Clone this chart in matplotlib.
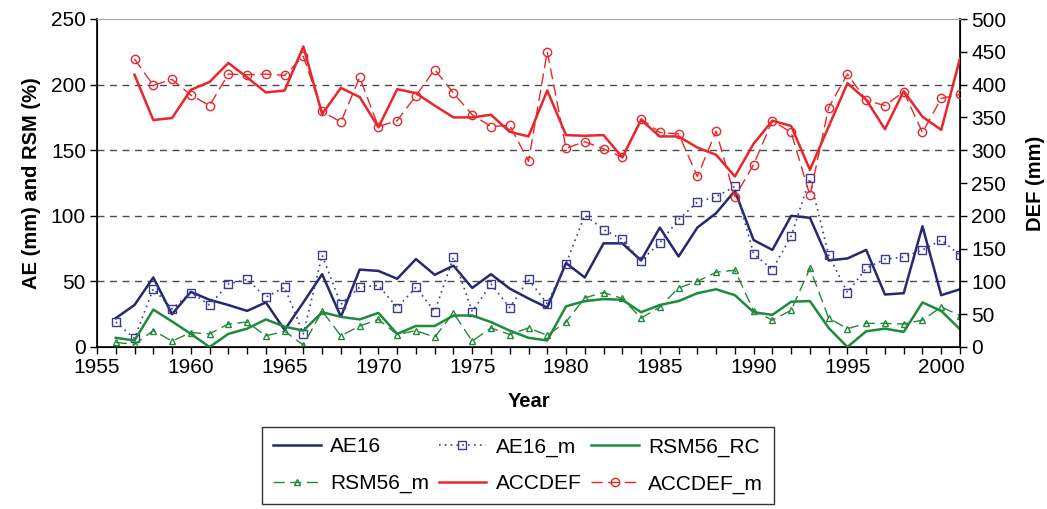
import matplotlib
matplotlib.use("Agg")
import matplotlib.pyplot as plt
from matplotlib.ticker import MultipleLocator

plt.rcParams['font.family'] = ['Liberation Sans', 'DejaVu Sans']

years = list(range(1956, 2002))

AE16 = [22, 32, 53, 25, 42, 36, 32, 27.5, 34, 13, 34, 55.5, 23, 59, 58, 52,
        67, 55, 62, 45, 55.5, 44.5, 37, 30, 64, 53, 79, 79, 66, 91, 69,
        91, 102, 119, 81.5, 74, 100, 98.5, 66, 67.5, 74, 40, 41, 92, 39.5, 44]
AE16_m = [19, 6.5, 44.5, 29, 41.5, 32, 48, 51.5, 38, 45.5, 10, 70, 32.5, 45.5, 47, 30,
          45.5, 27, 68.5, 27, 48, 30, 51.5, 33, 63.5, 100.5, 89.5, 82, 65.5, 79.5, 97,
          110.5, 114.5, 122.5, 71, 59, 84.5, 128.5, 70, 41.5, 60, 67, 68.5, 74, 81.5, 70]
RSM56_RC = [7, 5, 28.5, 19.5, 10, 0, 10, 14, 21, 15.5, 12.5, 26.5, 23, 21, 26, 10,
            16, 16, 24, 24, 19, 12.5, 7, 5, 31, 35, 36.5, 36, 26.5, 32, 35,
            41, 44, 39.5, 26.5, 24.5, 34.5, 35, 14.5, 0, 12, 14, 11.5, 34, 27.5, 13.5]
RSM56_m = [3.5, 2, 12.5, 4.5, 11, 10, 17.5, 19, 8.5, 12, 1.5, 27.5, 8.5, 16, 21, 9.5,
           12.5, 7.5, 26, 4.5, 14.5, 9.5, 14.5, 9, 19, 37.5, 41.5, 37, 22, 30.5, 45,
           50, 57, 58.5, 27.5, 20.5, 28, 60, 22, 14, 18, 18, 17.5, 20.5, 30.5, 24]

def_years = list(range(1957, 2002))
ACCDEF = [415, 346, 349, 392, 404, 433, 411, 388, 391, 458, 355, 395, 381, 335, 393,
          387, 368, 350, 350, 354, 328, 321, 391, 323, 322, 323, 289, 346, 321, 321,
          304, 293, 260, 310, 345, 337, 270, 336, 402, 377, 332, 390, 351, 331, 440]
ACCDEF_m = [439, 399, 408, 384, 368, 416, 415, 416, 414, 443, 359, 343, 411, 336, 345,
            383, 423, 387, 354, 336, 338, 283, 450, 303, 313, 302, 289, 348, 327, 325,
            260, 329, 229, 278, 345, 327, 231, 365, 416, 376, 368, 389, 327, 379, 385]

navy = '#27286f'
navy_m = '#3a3c8e'
green = '#1f8a3b'
red = '#e8262b'

W, H = 1047, 509
fig = plt.figure(figsize=(W / 100, H / 100), dpi=100)
ax = fig.add_axes([97 / W, 1 - 347 / H, (960 - 97) / W, (347 - 19) / H])
ax2 = ax.twinx()

ax.set_xlim(1955, 2001)
ax.set_ylim(0, 250)
ax2.set_ylim(0, 500)

for g in [50, 100, 150, 200]:
    ax.axhline(g, color='#4a4a4a', lw=1.0, ls=(0, (5, 4)), zorder=0)

l1, = ax.plot(years, AE16, color=navy, lw=1.8, label='AE16', zorder=3)
l2, = ax.plot(years, AE16_m, color=navy_m, lw=1.2, ls=(0, (1, 2.5)), marker='s',
              ms=5.5, mfc='none', mec=navy_m, mew=1.0, label='AE16_m', zorder=3)
l3, = ax.plot(years, RSM56_RC, color=green, lw=1.8, label='RSM56_RC', zorder=3)
l4, = ax.plot(years, RSM56_m, color=green, lw=1.0, ls=(0, (8, 4)), marker='^',
              ms=5, mfc='none', mec=green, mew=1.0, label='RSM56_m', zorder=3)
l5, = ax2.plot(def_years, ACCDEF, color=red, lw=1.8, label='ACCDEF', zorder=3)
l6, = ax2.plot(def_years, ACCDEF_m, color=red, lw=1.0, ls=(0, (8, 4)), marker='o',
               ms=6, mfc='none', mec=red, mew=1.0, label='ACCDEF_m', zorder=3)

ax.xaxis.set_major_locator(MultipleLocator(5))
ax.xaxis.set_minor_locator(MultipleLocator(1))
ax.yaxis.set_major_locator(MultipleLocator(50))
ax2.yaxis.set_major_locator(MultipleLocator(50))

ax.tick_params(axis='both', which='major', direction='out', length=5, width=1,
               labelsize=15, pad=3)
ax.tick_params(axis='x', which='minor', direction='out', length=5, width=1)
ax2.tick_params(axis='y', direction='out', length=5, width=1, labelsize=15, pad=3)

ax.spines['top'].set_color('#aaaaaa')
ax2.spines['top'].set_color('#aaaaaa')
for s in ['left', 'bottom']:
    ax.spines[s].set_linewidth(1.2)
ax2.spines['right'].set_linewidth(1.2)

ax.set_xlabel('Year', fontsize=14.5, fontweight='bold', labelpad=11)
ax.set_ylabel('AE (mm) and RSM (%)', fontsize=14.5, fontweight='bold', labelpad=7)
ax2.set_ylabel('DEF (mm)', fontsize=14.5, fontweight='bold', labelpad=14)

handles = [l1, l4, l2, l5, l3, l6]
leg = fig.legend(handles, [h.get_label() for h in handles], ncol=3,
                 loc='upper center', bbox_to_anchor=(518 / W, 1 - 427 / H),
                 borderaxespad=0,
                 fontsize=15, frameon=True, fancybox=False, edgecolor='black',
                 handlelength=2.3, columnspacing=0.45, handletextpad=0.45,
                 borderpad=0.5, labelspacing=0.85)
leg.get_frame().set_linewidth(1.0)

fig.savefig('out.png', dpi=100)
